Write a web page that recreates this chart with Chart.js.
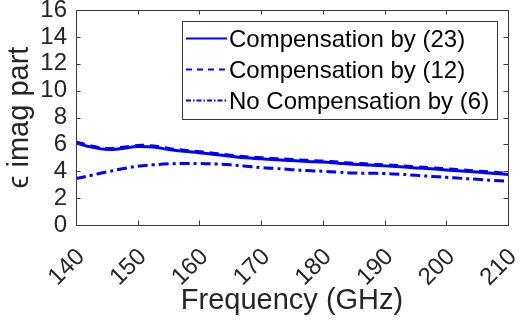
<!DOCTYPE html>
<html><head><meta charset="utf-8">
<script src="https://cdn.jsdelivr.net/npm/chart.js@4"></script>
<style>html,body{margin:0;padding:0;background:#fff}</style>
</head><body>
<canvas id="c" width="532" height="333" style="width:532px;height:333px;display:block"></canvas>
<script>
const frequency = [140,142.5,145,147.5,150,152.5,155,157.5,160,162.5,165,167.5,170,172.5,175,177.5,180,182.5,185,187.5,190,192.5,195,197.5,200,202.5,205,207.5,210];
const comp23 = [6.10,5.80,5.62,5.70,5.84,5.80,5.62,5.48,5.38,5.25,5.12,5.00,4.93,4.85,4.80,4.73,4.68,4.60,4.52,4.46,4.40,4.33,4.25,4.18,4.10,4.02,3.94,3.85,3.76];
const comp12 = [6.18,5.88,5.70,5.78,5.92,5.88,5.70,5.56,5.46,5.33,5.20,5.08,5.01,4.93,4.88,4.81,4.76,4.68,4.60,4.54,4.48,4.41,4.33,4.26,4.18,4.10,4.02,3.93,3.84];
const noComp6 = [3.45,3.70,3.95,4.18,4.38,4.48,4.55,4.58,4.58,4.54,4.48,4.38,4.27,4.20,4.12,4.05,4.00,3.93,3.87,3.85,3.83,3.78,3.70,3.62,3.55,3.47,3.40,3.32,3.25];
const xTicks = [140,150,160,170,180,190,200,210];
const yTicks = [0,2,4,6,8,10,12,14,16];
const seriesLabels = ['Compensation by (23)','Compensation by (12)','No Compensation by (6)'];

const FONT = "'Liberation Sans', Arial, sans-serif";
const AX = '#262626';
const BLUE = '#0000ff';

function pts(ys){ return frequency.map((f,i)=>({x:f,y:ys[i]})); }

const frameLegend = {
  id:'frameLegend',
  afterDatasetsDraw(chart){
    const {ctx, chartArea:a, scales:{x,y}} = chart;
    ctx.save();
    ctx.strokeStyle = '#3a3a3a'; ctx.lineWidth = 1;
    ctx.strokeRect(Math.round(a.left)+0.5, Math.round(a.top)+0.5, Math.round(a.right-a.left), Math.round(a.bottom-a.top));
    const tl = 4.5;
    ctx.beginPath();
    xTicks.forEach(v=>{ const px=Math.round(x.getPixelForValue(v))+0.5;
      ctx.moveTo(px,a.bottom); ctx.lineTo(px,a.bottom-tl);
      ctx.moveTo(px,a.top); ctx.lineTo(px,a.top+tl); });
    yTicks.forEach(v=>{ const py=Math.round(y.getPixelForValue(v))+0.5;
      ctx.moveTo(a.left,py); ctx.lineTo(a.left+tl,py);
      ctx.moveTo(a.right,py); ctx.lineTo(a.right-tl,py); });
    ctx.stroke();
    // legend
    const bx=182.5, by=21.5, bw=315, bh=98;
    ctx.fillStyle='#fff'; ctx.fillRect(bx,by,bw,bh);
    ctx.strokeStyle='#3a3a3a'; ctx.lineWidth=1; ctx.strokeRect(bx,by,bw,bh);
    const dashes=[[],[6,5],[5,2,1.5,2]];
    chart.data.datasets.forEach((ds,i)=>{
      const ly = 38.5 + i*31;
      ctx.strokeStyle=BLUE; ctx.lineWidth=2; ctx.setLineDash(dashes[i]);
      ctx.beginPath(); ctx.moveTo(186,ly); ctx.lineTo(227,ly); ctx.stroke();
      ctx.setLineDash([]);
      ctx.fillStyle='#000'; ctx.font='24px '+FONT; ctx.textBaseline='middle'; ctx.textAlign='left';
      ctx.fillText(ds.label,229,ly+1.5);
    });
    ctx.restore();
  }
};

new Chart(document.getElementById('c'),{
  type:'line',
  data:{datasets:[
    {label:seriesLabels[0],data:pts(comp23),borderColor:BLUE,borderWidth:3,pointRadius:0,tension:0.4,fill:false},
    {label:seriesLabels[1],data:pts(comp12),borderColor:BLUE,borderWidth:3,borderDash:[9,6],pointRadius:0,tension:0.4,fill:false},
    {label:seriesLabels[2],data:pts(noComp6),borderColor:BLUE,borderWidth:3,borderDash:[10,4,3,4],pointRadius:0,tension:0.4,fill:false}
  ]},
  options:{
    responsive:false, devicePixelRatio:1, animation:false,
    layout:{padding:{top:10,right:24,left:0,bottom:0}},
    plugins:{legend:{display:false},tooltip:{enabled:false}},
    scales:{
      x:{type:'linear',min:140,max:210,
        afterBuildTicks(s){ s.ticks = xTicks.map(v=>({value:v})); },
        afterFit(s){ s.height=108; s.paddingLeft=0; s.paddingRight=0; },
        grid:{display:false,drawTicks:false}, border:{display:false},
        ticks:{font:{family:FONT,size:24},color:AX,maxRotation:45,minRotation:45,padding:18,labelOffset:5,autoSkip:false},
        title:{display:true,text:'Frequency (GHz)',font:{family:FONT,size:29},color:AX,padding:{top:15,bottom:15}}},
      y:{min:0,max:16,
        afterBuildTicks(s){ s.ticks = yTicks.map(v=>({value:v})); },
        afterFit(s){ s.width=76; s.paddingTop=0; s.paddingBottom=0; },
        grid:{display:false,drawTicks:false}, border:{display:false},
        ticks:{font:{family:FONT,size:24},color:AX,padding:9,autoSkip:false},
        title:{display:true,text:'ϵ imag part',font:{family:FONT,size:29},color:AX,padding:{top:3,bottom:3}}}
    }
  },
  plugins:[frameLegend]
});
</script>
</body></html>
